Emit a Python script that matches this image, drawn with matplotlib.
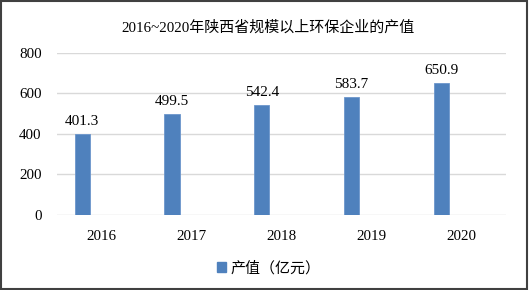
import matplotlib
matplotlib.use("Agg")
import matplotlib.pyplot as plt
from matplotlib.patches import Rectangle, Patch

plt.rcParams['font.family'] = ['Liberation Serif', 'Noto Sans CJK SC']

years = ['2016', '2017', '2018', '2019', '2020']
values = [401.3, 499.5, 542.4, 583.7, 650.9]
yticks = [0, 200, 400, 600, 800]
title = '2016~2020年陕西省规模以上环保企业的产值'
legend_label = '产值（亿元）'

fig = plt.figure(figsize=(5.29, 2.90), dpi=100)
ax = fig.add_axes([57/529, 1-215/290, 449/529, (215-52.7)/290])

x = list(range(len(years)))
bx = [i - 0.22 for i in x]
bars = ax.bar(bx, values, width=0.17, color='#4f81bd', edgecolor='#6c96cc', linewidth=0.6, zorder=3)
for xi, v in zip(bx, values):
    ax.annotate(f'{v:.1f}', (xi, v), xytext=(0, 4), textcoords='offset points',
                ha='center', va='bottom', fontsize=11, color='#000000')

ax.set_xlim(-0.5, 4.5)
ax.set_ylim(0, 800)
ax.set_yticks(yticks)
ax.set_yticklabels([str(t) for t in yticks], fontsize=10.8)
ax.set_xticks(x)
ax.set_xticklabels(years, fontsize=10.8)
ax.tick_params(axis='both', length=0)
ax.tick_params(axis='y', pad=11)
ax.tick_params(axis='x', pad=11)
for s in ax.spines.values():
    s.set_visible(False)
ax.grid(axis='y', color='#d9d9d9', linewidth=1.0, zorder=0)
ax.set_axisbelow(True)

fig.text(268.5/529, 1-28/290, title, ha='center', va='center', fontsize=10.8)

fig.legend(handles=[Patch(facecolor='#4f81bd', edgecolor='#4f81bd')], labels=[legend_label],
           loc='center', bbox_to_anchor=(269/529, 1-268/290), frameon=False,
           fontsize=10.8, handlelength=0.6, handleheight=0.6, handletextpad=0.3)

fig.patches.append(Rectangle((0.002, 0.003), 0.995, 0.993, transform=fig.transFigure,
                             fill=False, edgecolor='#404040', linewidth=1.5))

fig.savefig('out.png', dpi=100)
